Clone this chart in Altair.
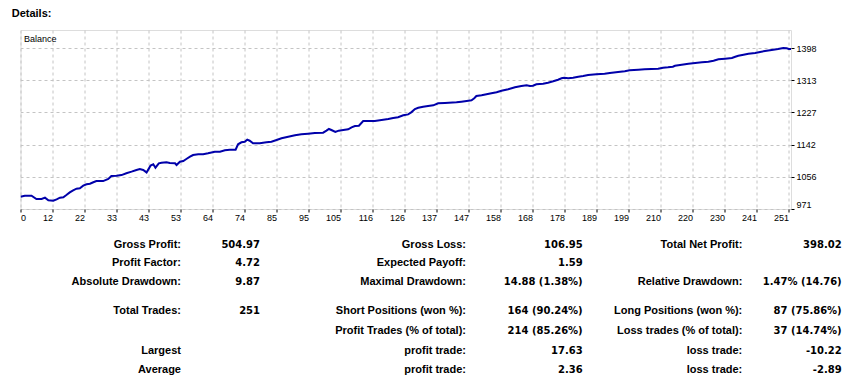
import json
import altair as alt
import pandas as pd

# ---- balance curve (trade number, balance) ----
trade = [0, 1.4, 3.6, 5.2, 6.9, 8.0, 9.1, 10.7, 11.8, 12.9, 14.0, 15.0, 16.1, 17.2, 18.3, 19.4,
         20.5, 21.6, 22.7, 23.8, 24.8, 27.0, 28.7, 29.7, 31.4, 33.0, 34.6, 36.3, 37.9, 39.0,
         40.1, 41.2, 42.5, 43.4, 44.1, 45.2, 46.1, 47.7, 48.8, 50.5, 51.0, 52.1, 53.2, 54.2,
         55.4, 56.4, 58.1, 59.7, 61.3, 63.5, 65.2, 66.8, 68.4, 70.3, 71.1, 72.2, 73.3, 74.1,
         74.9, 76.0, 78.2, 80.4, 82.0, 83.7, 85.3, 87.5, 89.7, 91.8, 94.0, 96.2, 98.9, 100.0,
         100.8, 101.6, 102.9, 104.0, 105.5, 107.1, 108.2, 109.3, 110.6, 112.0, 113.6, 115.8,
         118.0, 120.2, 121.8, 123.4, 125.1, 126.7, 127.8, 128.9, 130.0, 131.6, 133.2, 134.9,
         136.5, 138.7, 142.5, 144.1, 145.8, 147.4, 148.3, 149.0, 150.7, 152.3, 153.9, 155.6,
         157.2, 159.4, 161.6, 163.7, 165.4, 166.5, 167.5, 168.6, 170.8, 172.4, 174.1, 175.7,
         176.8, 177.7, 179.0, 180.6, 182.3, 183.9, 185.5, 188.2, 190.9, 192.6, 195.3, 197.5,
         199.1, 201.9, 204.0, 206.2, 208.4, 210.0, 211.6, 213.2, 213.9, 216.1, 218.3, 220.5,
         222.7, 224.8, 226.5, 228.1, 230.3, 232.5, 233.6, 234.6, 236.3, 237.9, 240.1, 241.7,
         243.3, 245.5, 247.6, 249.3, 250.4, 251.1, 251.9]
balance = [1003.6, 1006.3, 1006.3, 997.5, 997.5, 1001.0, 994.0, 993.0, 996.7, 1001.0, 1002.0,
           1008.0, 1015.0, 1020.6, 1025.0, 1026.0, 1033.0, 1036.5, 1038.0, 1042.0, 1045.0,
           1045.0, 1050.6, 1058.5, 1059.0, 1061.0, 1065.7, 1070.0, 1074.4, 1077.0, 1074.4,
           1068.0, 1086.0, 1089.5, 1080.5, 1092.2, 1093.8, 1094.9, 1093.0, 1092.2, 1087.7,
           1096.4, 1098.3, 1103.6, 1109.7, 1114.2, 1116.0, 1116.0, 1118.7, 1123.0, 1123.0,
           1126.7, 1128.3, 1128.3, 1142.6, 1147.9, 1149.5, 1154.8, 1152.1, 1145.2, 1145.2,
           1147.9, 1149.5, 1154.0, 1158.5, 1162.7, 1166.4, 1169.0, 1170.7, 1172.5, 1173.4,
           1178.7, 1183.2, 1180.5, 1175.2, 1178.7, 1180.5, 1182.4, 1187.7, 1191.1, 1191.9,
           1204.4, 1204.4, 1204.4, 1207.0, 1209.7, 1212.3, 1214.2, 1219.5, 1222.0, 1228.0,
           1236.2, 1239.6, 1242.3, 1244.2, 1246.0, 1251.3, 1252.1, 1254.0, 1255.6, 1257.4,
           1259.3, 1264.6, 1270.7, 1272.5, 1275.2, 1277.8, 1280.5, 1284.7, 1288.4, 1293.7,
           1297.2, 1299.0, 1297.2, 1298.0, 1301.7, 1303.4, 1306.0, 1309.7, 1313.9, 1317.6,
           1319.2, 1317.6, 1319.2, 1321.9, 1323.7, 1326.4, 1328.2, 1329.8, 1331.7, 1334.3,
           1336.2, 1338.8, 1340.4, 1341.5, 1342.3, 1343.1, 1345.7, 1346.8, 1348.4, 1351.0,
           1353.7, 1356.3, 1358.2, 1360.0, 1361.6, 1364.3, 1368.0, 1369.6, 1371.5, 1374.9,
           1377.6, 1380.2, 1382.9, 1384.7, 1387.4, 1390.0, 1392.7, 1395.4, 1398.0, 1397.2,
           1395.4, 1395.4]

# ---- axis tick labels ----
x_tick_labels = ["0", "12", "22", "33", "43", "53", "64", "74", "85", "95", "105", "116", "126",
                 "137", "147", "158", "168", "178", "189", "199", "210", "220", "230", "241", "251"]
y_tick_values = [971, 1056.4, 1141.8, 1227.2, 1312.6, 1398]

# ---- statistics table ----
col_labels_1 = ["Gross Profit:", "Profit Factor:", "Absolute Drawdown:", "Total Trades:", "", "Largest", "Average"]
col_values_1 = ["504.97", "4.72", "9.87", "251", "", "", ""]
col_labels_2 = ["Gross Loss:", "Expected Payoff:", "Maximal Drawdown:", "Short Positions (won %):",
                "Profit Trades (% of total):", "profit trade:", "profit trade:"]
col_values_2 = ["106.95", "1.59", "14.88 (1.38%)", "164 (90.24%)", "214 (85.26%)", "17.63", "2.36"]
col_labels_3 = ["Total Net Profit:", "", "Relative Drawdown:", "Long Positions (won %):",
                "Loss trades (% of total):", "loss trade:", "loss trade:"]
col_values_3 = ["398.02", "", "1.47% (14.76)", "87 (75.86%)", "37 (14.74%)", "-10.22", "-2.89"]

# ---------------------------------------------------------------
PLOT_W, PLOT_H = 770.5, 179
X_MAX = 251 * PLOT_W / 768.0
n_ticks = len(x_tick_labels)
x_tick_pos = [i * 251 / (n_ticks - 1) for i in range(n_ticks)]
label_expr = json.dumps(x_tick_labels) + f"[round(datum.value * {n_ticks - 1} / 251)]"

df_line = pd.DataFrame({"trade": trade, "balance": balance})

records = []
columns = [col_labels_1, col_values_1, col_labels_2, col_values_2, col_labels_3, col_values_3]
for c, col in enumerate(columns):
    for r, txt in enumerate(col):
        if txt:
            records.append({"row": r, "col": c, "text": txt, "kind": "label" if c % 2 == 0 else "value"})
df_stats = pd.DataFrame(records)

FONT = "Liberation Sans"
grid_color = "#c4c4c4"

line = alt.Chart(df_line).mark_line(color="#0000AA", strokeWidth=2, clip=True).encode(
    x=alt.X("trade:Q",
            scale=alt.Scale(domain=[0, X_MAX], nice=False, zero=False),
            axis=alt.Axis(values=x_tick_pos, labelExpr=label_expr, title=None, grid=True,
                          gridDash=[3, 3], gridColor=grid_color, gridWidth=1, domain=False,
                          tickSize=3, tickColor="black", labelPadding=1, labelFont=FONT,
                          labelFontSize=9, labelColor="black", labelOverlap=False, labelBound=False,
                          labelAlign={"condition": {"test": "datum.value == 0", "value": "left"},
                                      "value": "right"})),
    y=alt.Y("balance:Q",
            scale=alt.Scale(domain=[971, 971 + 179 * 85.4 / 32.2], nice=False, zero=False),
            axis=alt.Axis(orient="right", values=y_tick_values, format=".0f", title=None, grid=True,
                          gridDash=[3, 3], gridColor=grid_color, gridWidth=1, domain=False,
                          tickSize=3, tickColor="black", labelPadding=2, labelFont=FONT,
                          labelFontSize=9, labelColor="black", labelFlush=True, labelOverlap=False)),
)

balance_lbl = alt.Chart(pd.DataFrame({"t": ["Balance"]})).mark_text(
    align="left", baseline="alphabetic", font=FONT, fontSize=9, color="black"
).encode(x=alt.value(3.5), y=alt.value(11.7), text="t:N")

details_lbl = alt.Chart(pd.DataFrame({"t": ["Details:"]})).mark_text(
    align="left", baseline="alphabetic", font=FONT, fontSize=11, fontWeight="bold", color="black"
).encode(x=alt.value(-8.8), y=alt.value(-12.7), text="t:N")

col_scale = alt.Scale(domain=[0, 1, 2, 3, 4, 5],
                      range=[160.5, 239.5, 445.5, 562.2, 721.8, 821.2], nice=False, zero=False)
row_scale = alt.Scale(domain=[0, 1, 2, 3, 4, 5, 6],
                      range=[217.7, 236.3, 255.3, 284, 304.3, 324.3, 343], nice=False, zero=False)

stat_labels = alt.Chart(df_stats).transform_filter("datum.kind == 'label'").mark_text(
    align="right", baseline="alphabetic", font=FONT, fontSize=11, fontWeight="bold", color="black"
).encode(x=alt.X("col:Q", scale=col_scale, axis=None),
         y=alt.Y("row:Q", scale=row_scale, axis=None), text="text:N")

stat_values = alt.Chart(df_stats).transform_filter("datum.kind == 'value'").mark_text(
    align="right", baseline="alphabetic", font="DejaVu Sans", fontSize=10, fontWeight="bold", color="black"
).encode(x=alt.X("col:Q", scale=col_scale, axis=None),
         y=alt.Y("row:Q", scale=row_scale, axis=None), text="text:N")

chart = alt.layer(line, balance_lbl, details_lbl, stat_labels, stat_values).resolve_scale(
    x="independent", y="independent"
).properties(
    width=PLOT_W, height=PLOT_H,
    autosize=alt.AutoSizeParams(type="none"),
    padding={"left": 12.5, "top": 22, "right": 57, "bottom": 168},
).configure_view(stroke="black", strokeWidth=1).configure(background="white")

chart.save("out.html", embed_options={"renderer": "svg", "actions": False})
